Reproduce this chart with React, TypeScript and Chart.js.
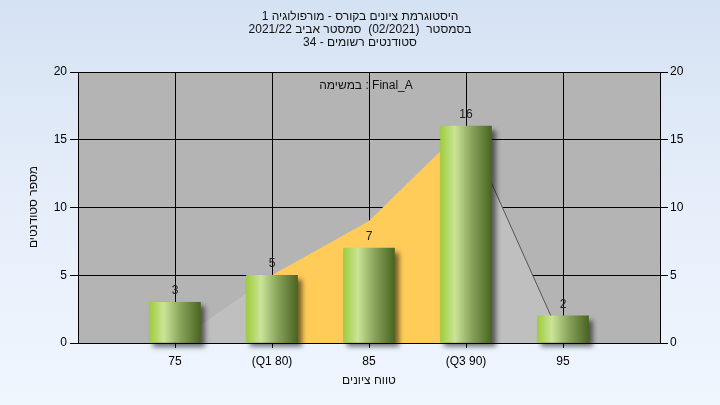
import React, { useEffect, useRef } from "react";
import { Chart, registerables } from "chart.js";

Chart.register(...registerables);

const categories = [75, 80, 85, 90, 95];
const tickLabels = ["75", "(Q1 80)", "85", "(Q3 90)", "95"];
const counts = [3, 5, 7, 16, 2];
const curveX = [75, 80, 85, 90, 95];
const curveY = [0, 5, 9, 16, 0];
const iqrX = [80, 85, 90];
const iqrY = [5, 9, 16];
const tailX = [90, 95];
const tailY = [16, 0];
const titleLines = [
  "היסטוגרמת ציונים בקורס - מורפולוגיה 1",
  "בסמסטר  (02/2021)  סמסטר אביב 2021/22",
  "סטודנטים רשומים - 34",
];
const legendText = "במשימה : Final_A";
const xTitle = "טווח ציונים";
const yTitle = "מספר סטודנטים";

const FONT = "'Liberation Sans', Arial, sans-serif";

const textPlugin = {
  id: "texts",
  afterDraw(chart: any) {
    const ctx = chart.ctx;
    const area = chart.chartArea;
    ctx.save();
    ctx.fillStyle = "#111";
    ctx.font = `12px ${FONT}`;
    ctx.textAlign = "center";
    ctx.textBaseline = "middle";
    ctx.direction = "rtl";
    titleLines.forEach((t, i) => ctx.fillText(t, 360, 17 + i * 13));
    ctx.fillText(xTitle, (area.left + area.right) / 2, 381);
    ctx.save();
    ctx.translate(34, 207);
    ctx.rotate(-Math.PI / 2);
    ctx.fillText(yTitle, 0, 0);
    ctx.restore();
    ctx.direction = "ltr";
    ctx.fillText(legendText, 366, 86);
    ctx.restore();
  },
};

const shadowPlugin = {
  id: "barShadow",
  beforeDatasetDraw(chart: any, args: any) {
    const ds = chart.data.datasets[args.index];
    if (ds.type === "bar") {
      const ctx = chart.ctx;
      ctx.save();
      ctx.shadowColor = "rgba(0,0,0,0.55)";
      ctx.shadowBlur = 5;
      ctx.shadowOffsetX = 4;
      ctx.shadowOffsetY = 4;
    }
  },
  afterDatasetDraw(chart: any, args: any) {
    const ds = chart.data.datasets[args.index];
    if (ds.type === "bar") {
      const ctx = chart.ctx;
      ctx.restore();
      const meta = chart.getDatasetMeta(args.index);
      ctx.save();
      ctx.fillStyle = "#222";
      ctx.font = `12px ${FONT}`;
      ctx.textAlign = "center";
      ctx.textBaseline = "alphabetic";
      meta.data.forEach((bar: any, i: number) => {
        ctx.fillText(String(counts[i]), bar.x, bar.y - 8);
      });
      ctx.restore();
    }
  },
};

export default function App() {
  const ref = useRef<HTMLCanvasElement>(null);
  useEffect(() => {
    const canvas = ref.current!;
    const barWidth = 51;
    const chart = new Chart(canvas, {
      type: "bar",
      data: {
        datasets: [
          {
            type: "bar",
            data: categories.map((x, i) => ({ x, y: counts[i] })),
            barThickness: barWidth,
            order: 0,
            clip: 12,
            borderWidth: 0,
            backgroundColor: (c: any) => {
              const ch = c.chart;
              const xs = ch.scales && ch.scales.x;
              if (!xs || !c.raw) return "#9dcb3b";
              const cx = xs.getPixelForValue(c.raw.x);
              if (!Number.isFinite(cx)) return "#9dcb3b";
              const g = ch.ctx.createLinearGradient(cx - barWidth / 2, 0, cx + barWidth / 2, 0);
              g.addColorStop(0, "#9ecd3c");
              g.addColorStop(0.28, "#cbe497");
              g.addColorStop(0.62, "#86a25a");
              g.addColorStop(1, "#4a6520");
              return g;
            },
          } as any,
          {
            type: "line",
            data: tailX.map((x, i) => ({ x, y: tailY[i] })),
            borderColor: "#555555",
            borderWidth: 1,
            pointRadius: 0,
            fill: false,
            order: 1,
          } as any,
          {
            type: "line",
            data: iqrX.map((x, i) => ({ x, y: iqrY[i] })),
            borderWidth: 0,
            borderColor: "rgba(0,0,0,0)",
            backgroundColor: "#ffcc59",
            pointRadius: 0,
            fill: "origin",
            order: 2,
          } as any,
          {
            type: "line",
            data: curveX.map((x, i) => ({ x, y: curveY[i] })),
            borderWidth: 0,
            borderColor: "rgba(0,0,0,0)",
            backgroundColor: "#bfbfbf",
            pointRadius: 0,
            fill: "origin",
            order: 3,
          } as any,
        ],
      },
      options: {
        animation: false,
        responsive: false,
        devicePixelRatio: 1,
        layout: { padding: { top: 72, left: 0, right: 0, bottom: 0 } },
        plugins: { legend: { display: false }, tooltip: { enabled: false } },
        scales: {
          x: {
            type: "linear",
            min: 70,
            max: 100,
            offset: false,
            afterBuildTicks: (s: any) => {
              s.ticks = categories.map((v) => ({ value: v }));
            },
            afterFit: (s: any) => {
              s.height = 62;
            },
            ticks: {
              color: "#000",
              font: { size: 12, family: FONT },
              padding: 6,
              maxRotation: 0,
              autoSkip: false,
              callback: (v: any) => {
                const i = categories.indexOf(Number(v));
                return i >= 0 ? tickLabels[i] : "";
              },
            },
            grid: { color: "#000", lineWidth: 1, tickLength: 5, offset: false },
            border: { color: "#000", z: 1 },
          },
          y: {
            position: "left",
            min: 0,
            max: 20,
            afterFit: (s: any) => {
              s.width = 78;
            },
            ticks: { stepSize: 5, color: "#000", font: { size: 12, family: FONT }, padding: 3 },
            grid: { color: "#000", lineWidth: 1, tickLength: 8 },
            border: { color: "#000", z: 1 },
          },
          y2: {
            position: "right",
            min: 0,
            max: 20,
            afterFit: (s: any) => {
              s.width = 60;
            },
            ticks: { stepSize: 5, color: "#000", font: { size: 12, family: FONT }, padding: 2 },
            grid: { color: "#000", lineWidth: 1, tickLength: 8, drawOnChartArea: false },
            border: { color: "#000", z: 1 },
          },
        },
      } as any,
      plugins: [
        {
          id: "plotBg",
          beforeDraw(ch: any) {
            const a = ch.chartArea;
            ch.ctx.save();
            ch.ctx.fillStyle = "#b4b4b4";
            ch.ctx.fillRect(a.left, a.top, a.right - a.left, a.bottom - a.top);
            ch.ctx.restore();
          },
        },
        shadowPlugin,
        textPlugin,
      ],
    });
    return () => chart.destroy();
  }, []);
  return (
    <div
      style={{
        position: "fixed",
        left: 0,
        top: 0,
        width: 720,
        height: 405,
        background: "linear-gradient(to bottom, #d5e2f3 0%, #e6eefa 50%, #eff6fe 100%)",
      }}
    >
      <canvas ref={ref} width={720} height={405} style={{ display: "block" }} />
    </div>
  );
}
